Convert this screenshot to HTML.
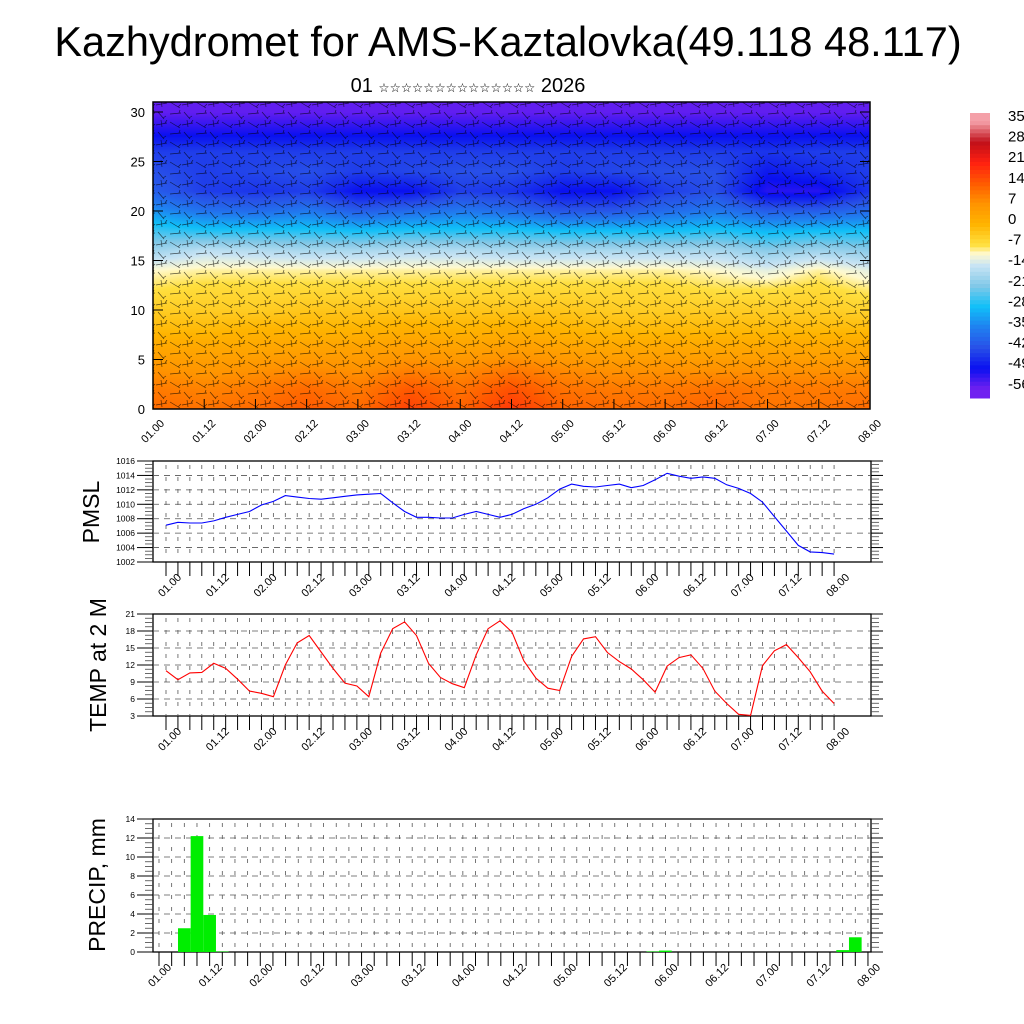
<!DOCTYPE html>
<html><head><meta charset="utf-8">
<style>
html,body{margin:0;padding:0;background:#fff;width:1024px;height:1024px;overflow:hidden;}
#wrap{position:relative;width:1024px;height:1024px;}
#heat{position:absolute;left:153px;top:102px;}
#svg{position:absolute;left:0;top:0;}
text{font-family:"Liberation Sans","DejaVu Sans",sans-serif;}
</style></head>
<body>
<div id="wrap">
<canvas id="heat" width="717" height="307"></canvas>
<svg id="svg" width="1024" height="1024" xmlns="http://www.w3.org/2000/svg">
<defs>
<pattern id="barbs" width="26" height="20" patternUnits="userSpaceOnUse">
<path d="M0 5 L11 3 M9 3 L11 0 M14 2 L24 8 M22 7 L25 4 M2 12 L8 19 M7 18 L10 16 M14 14 L25 13 M23 13 L24 10 M5 0 L6 7" stroke="#000" stroke-width="0.7" fill="none" opacity="0.65"/>
</pattern>
</defs>
<text x="508" y="56" font-size="41.5" text-anchor="middle">Kazhydromet for AMS-Kaztalovka(49.118 48.117)</text>
<text x="468" y="92" font-size="20" text-anchor="middle">01 <tspan font-size="12.5" font-family="DejaVu Sans">☆☆☆☆☆☆☆☆☆☆☆☆☆☆</tspan> 2026</text>
<rect x="153" y="102" width="717" height="307" fill="url(#barbs)"/>
<g id="g"></g>
</svg>
</div>
<script>
// ---- data ----
const timeLabels = ["01.00","01.12","02.00","02.12","03.00","03.12","04.00","04.12","05.00","05.12","06.00","06.12","07.00","07.12","08.00"];
const pmsl = [1007.1,1007.5,1007.4,1007.4,1007.7,1008.2,1008.6,1009.0,1009.9,1010.4,1011.2,1011.0,1010.8,1010.7,1010.9,1011.1,1011.3,1011.4,1011.5,1010.2,1009.0,1008.2,1008.2,1008.1,1008.1,1008.6,1009.0,1008.6,1008.2,1008.6,1009.4,1010.0,1010.9,1012.1,1012.8,1012.5,1012.4,1012.6,1012.8,1012.3,1012.6,1013.4,1014.3,1013.9,1013.6,1013.8,1013.6,1012.7,1012.2,1011.5,1010.3,1008.3,1006.3,1004.3,1003.4,1003.3,1003.1];
const temp2m = [11.0,9.4,10.6,10.7,12.3,11.4,9.5,7.4,7.0,6.4,12.0,15.9,17.2,14.3,11.4,8.8,8.3,6.4,14.1,18.4,19.6,17.2,12.3,9.8,8.7,8.0,13.8,18.4,19.8,17.8,12.7,9.7,7.9,7.5,13.5,16.6,17.0,14.2,12.6,11.3,9.4,7.2,11.8,13.3,13.8,11.4,7.4,5.2,3.3,3.1,11.9,14.5,15.6,13.3,10.8,7.4,5.2];
const precipIdx = [2,3,4,5,39,40,54,55];
const precipVal = [2.5,12.2,3.9,0.05,0.05,0.15,0.2,1.55];
const pmslTicks = [1002,1004,1006,1008,1010,1012,1014,1016];
const tempTicks = [3,6,9,12,15,18,21];
const precTicks = [0,2,4,6,8,10,12,14];
const heightTicks = [0,5,10,15,20,25,30];
const cbLabels = ["35","28","21","14","7","0","-7","-14","-21","-28","-35","-42","-49","-56"];
const heatLevels = [0,2,4,6,8,10,12,14,16,18,20,22,24,26,28,30];
const heatRows = [
[12,11,12,14,12,17,13,18,13,12,12,13,11,11,12],
[10,9,10,12,10,14,11,15,11,10,10,11,10,10,10],
[7,6,7,8,7,9,8,10,8,7,7,7,7,7,7],
[3,3,3,4,4,5,4,5,4,3,3,3,3,3,3],
[-1,-1,0,0,0,1,0,1,0,-1,-1,-1,-1,-1,-1],
[-4,-4,-4,-3,-3,-3,-3,-3,-3,-4,-4,-4,-4,-4,-5],
[-7,-6,-6,-6,-6,-6,-6,-6,-6,-6,-6,-7,-7,-6,-8],
[-10,-9,-9,-9,-9,-9,-9,-9,-9,-9,-9,-10,-12,-9,-12],
[-18,-15,-16,-17,-17,-16,-16,-17,-17,-17,-17,-17,-20,-18,-20],
[-25,-27,-27,-27,-28,-27,-27,-27,-28,-28,-28,-27,-29,-28,-28],
[-33,-37,-38,-36,-40,-38,-36,-38,-41,-41,-38,-36,-40,-40,-38],
[-40,-44,-45,-44,-49,-49,-44,-45,-49,-49,-44,-42,-51,-51,-45],
[-42,-44,-43,-42,-44,-43,-42,-42,-44,-43,-42,-42,-48,-46,-44],
[-44,-44,-44,-44,-44,-44,-44,-44,-44,-44,-44,-44,-45,-44,-44],
[-50,-50,-50,-50,-50,-50,-50,-50,-50,-50,-50,-50,-50,-50,-50],
[-55,-55,-55,-55,-55,-55,-55,-55,-55,-55,-55,-55,-55,-55,-55]];
// colormap stops
const cmVals = [-56,-49,-42,-35,-28,-21,-14,-10,-7,0,7,14,21,28,35];
const cmCols = [[112,32,240],[10,16,240],[40,80,232],[32,128,240],[16,192,248],[128,200,232],[200,228,244],[255,250,208],[255,224,64],[255,180,0],[255,148,0],[255,90,0],[255,32,16],[192,16,26],[244,160,168]];

function cmap(v){
  if(v<=cmVals[0]) return cmCols[0];
  for(let i=1;i<cmVals.length;i++){
    if(v<=cmVals[i]){const f=(v-cmVals[i-1])/(cmVals[i]-cmVals[i-1]);
      return cmCols[i-1].map((c,k)=>Math.round(c+(cmCols[i][k]-c)*f));}
  }
  return cmCols[cmCols.length-1];
}
const NS="http://www.w3.org/2000/svg";
const G=document.getElementById('g');
function el(t,a,parent){const e=document.createElementNS(NS,t);for(const k in a)e.setAttribute(k,a[k]);(parent||G).appendChild(e);return e;}
function txt(x,y,s,size,anchor,rot){const e=el('text',{x:x,y:y,'font-size':size,'text-anchor':anchor||'start'});if(rot)e.setAttribute('transform','rotate('+rot+' '+x+' '+y+')');e.textContent=s;return e;}

// ---- heatmap ----
(function(){
  const c=document.getElementById('heat'),ctx=c.getContext('2d');
  const W=717,H=307,img=ctx.createImageData(W,H);
  const nc=heatRows[0].length;
  const zTop=31;
  for(let py=0;py<H;py++){
    const z=zTop*(1-py/(H-1));
    let r=0;while(r<heatLevels.length-2&&z>heatLevels[r+1])r++;
    const fz=Math.max(0,Math.min(1,(z-heatLevels[r])/(heatLevels[r+1]-heatLevels[r])));
    for(let px=0;px<W;px++){
      const t=px/(W-1)*(nc-1);let ci=Math.min(nc-2,Math.floor(t));const ft=t-ci;
      const a=heatRows[r][ci]*(1-ft)+heatRows[r][ci+1]*ft;
      const b=heatRows[r+1][ci]*(1-ft)+heatRows[r+1][ci+1]*ft;
      const v=a*(1-fz)+b*fz;const col=cmap(v);const o=(py*W+px)*4;
      img.data[o]=col[0];img.data[o+1]=col[1];img.data[o+2]=col[2];img.data[o+3]=255;
    }
  }
  ctx.putImageData(img,0,0);
})();

// ---- top panel axes ----
const topX=t=>153+t/56*717;
const topY=z=>409-z*9.9;
let f=el('rect',{x:153,y:102,width:717,height:307,fill:'none',stroke:'#000','stroke-width':1.5});

heightTicks.forEach(z=>{
  const t=txt(145,topY(z)+5,String(z),13,'end');
  
  el('line',{x1:153,x2:163,y1:topY(z),y2:topY(z),stroke:'#000'});
  el('line',{x1:860,x2:870,y1:topY(z),y2:topY(z),stroke:'#000'});
});
timeLabels.forEach((s,i)=>{
  const x=topX(i*4);
  el('line',{x1:x,x2:x,y1:399,y2:409,stroke:'#000'});
  const t=txt(x+12,424,s,11,'end',-45);
  
});

// ---- colorbar ----
const cbTop=113,cbBot=398,cbMin=-59,cbMax=38;
const nS=70;
for(let k=0;k<nS;k++){
  const v=cbMax-(k+0.5)*(cbMax-cbMin)/nS;const c=cmap(v);
  const r=el('rect',{x:970,y:cbTop+k*(cbBot-cbTop)/nS,width:20,height:(cbBot-cbTop)/nS+0.5,fill:'rgb('+c.join(',')+')'});
  
}
cbLabels.forEach((s,i)=>{
  const t=txt(1008,121+i*20.6,s,15,'start');
  
});

// ---- generic lower panel ----
function panel(name,top,bot,right,x0,dx,ticks,ymin,ymax,labelX,labelOff,title,titleY){
  const y=v=>bot-(v-ymin)*(bot-top)/(ymax-ymin);
  const fr=el('rect',{x:153,y:top,width:right-153,height:bot-top,fill:'none',stroke:'#000','stroke-width':1.3});
  
  for(let i=0;i<=56;i++){
    const x=x0+i*dx;
    el('line',{x1:x,x2:x,y1:top+4,y2:bot,stroke:'#555','stroke-width':0.8,'stroke-dasharray':'4 8'});
    el('line',{x1:x,x2:x,y1:bot,y2:bot+14,stroke:'#000','stroke-width':1});
  }
  const st=(ticks[1]-ticks[0])/4;
  for(let v=ymin;v<=ymax+1e-6;v+=st){
    el('line',{x1:145,x2:153,y1:y(v),y2:y(v),stroke:'#444','stroke-width':0.8});
    el('line',{x1:right,x2:right+8,y1:y(v),y2:y(v),stroke:'#444','stroke-width':0.8});
  }
  ticks.forEach(v=>{
    el('line',{x1:137,x2:153,y1:y(v),y2:y(v),stroke:'#000','stroke-width':1});
    el('line',{x1:right,x2:right+12,y1:y(v),y2:y(v),stroke:'#000','stroke-width':1});
    if(v>ymin&&v<ymax) el('line',{x1:153,x2:right,y1:y(v),y2:y(v),stroke:'#555','stroke-width':0.8,'stroke-dasharray':'6 5'});
    const t=txt(135,y(v)+3,String(v),8.5,'end');
    
  });
  timeLabels.forEach((s,i)=>{
    const x=x0+i*4*dx;
    const t=txt(x+labelOff,bot+16,s,11,'end',-45);
    
  });
  const tt=txt(labelX,titleY,title,23,'middle',-90);
  
  return y;
}
// PMSL
const pX=i=>166+i*11.93;
const pY=panel('pmsl',461,562,871,166,11.93,pmslTicks,1002,1016,99,16,'PMSL',512);
let d=pmsl.map((v,i)=>(i?'L':'M')+pX(i).toFixed(1)+' '+pY(v).toFixed(1)).join(' ');
let ln=el('path',{d:d,fill:'none',stroke:'#0000ff','stroke-width':1.1});

// TEMP
const tY=panel('temp',614,716,871,166,11.93,tempTicks,3,21,106,16,'TEMP at 2 M',665);
d=temp2m.map((v,i)=>(i?'L':'M')+pX(i).toFixed(1)+' '+tY(v).toFixed(1)).join(' ');
ln=el('path',{d:d,fill:'none',stroke:'#ff0000','stroke-width':1.1});

// PRECIP
const rX=i=>159+i*12.66;
const rY=panel('precip',819,952,871,159,12.66,precTicks,0,14,105,13,'PRECIP, mm',885);
precipIdx.forEach((idx,k)=>{
  const v=precipVal[k];
  const b=el('rect',{x:rX(idx)-6.33,y:rY(v),width:12.66,height:952-rY(v),fill:'#00ee00'});
  
});
</script>
</body></html>
